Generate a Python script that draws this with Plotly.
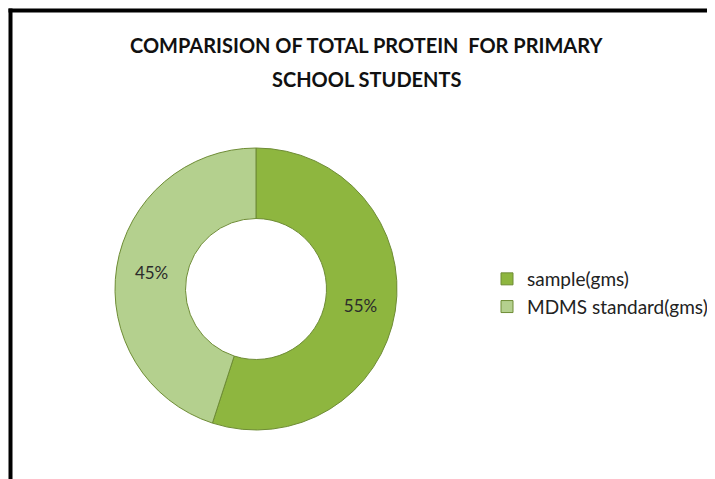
import plotly.graph_objects as go

labels = ["sample(gms)", "MDMS standard(gms)"]
values = [55, 45]
colors = ["#8EB63F", "#B4D08E"]
title_lines = ["COMPARISION OF TOTAL PROTEIN  FOR PRIMARY", "SCHOOL STUDENTS"]

# page body has an 8px margin; figure coords = screen coords - 8
OFF = 8
W, H = 715 - OFF, 479 - OFF


def px(x):
    return (x - OFF) / W


def py(y):
    return 1 - (y - OFF) / H


cx, cy, r = 256, 289, 141
FONT = "Lato, Open Sans, sans-serif"

fig = go.Figure(go.Pie(
    labels=labels, values=values, hole=0.5, sort=False, direction="clockwise", rotation=0,
    marker=dict(colors=colors, line=dict(color="#6E8C35", width=1)),
    textinfo="percent", textposition="inside", insidetextorientation="horizontal",
    textfont=dict(family=FONT, size=17, color="#2b2b2b"),
    domain=dict(x=[px(cx - r), px(cx + r)], y=[py(cy + r), py(cy - r)]),
    hoverinfo="label+percent",
))

annotations = []
for i, line in enumerate(title_lines):
    annotations.append(dict(text="<b>" + line + "</b>", x=px(366), y=py(45.5 + 34 * i),
                            xref="paper", yref="paper", xanchor="center", yanchor="middle",
                            showarrow=False, font=dict(size=20, family=FONT, color="#111")))

fig.update_layout(
    width=W, height=H,
    margin=dict(l=0, r=0, t=0, b=0),
    paper_bgcolor="white", plot_bgcolor="white",
    font=dict(family=FONT, color="#222"),
    showlegend=True,
    legend=dict(x=px(487), y=py(260), xanchor="left", yanchor="top",
                font=dict(size=19, color="#222", family=FONT), tracegroupgap=0,
                itemwidth=30, bgcolor="rgba(0,0,0,0)"),
    annotations=annotations,
    shapes=[
        dict(type="line", xref="paper", yref="paper", x0=px(8.5), x1=1.05, y0=py(10.5), y1=py(10.5),
             line=dict(color="black", width=4)),
        dict(type="line", xref="paper", yref="paper", x0=px(10.5), x1=px(10.5), y0=py(8.5), y1=-0.05,
             line=dict(color="black", width=4)),
    ],
)

fig.write_html("out.html")
